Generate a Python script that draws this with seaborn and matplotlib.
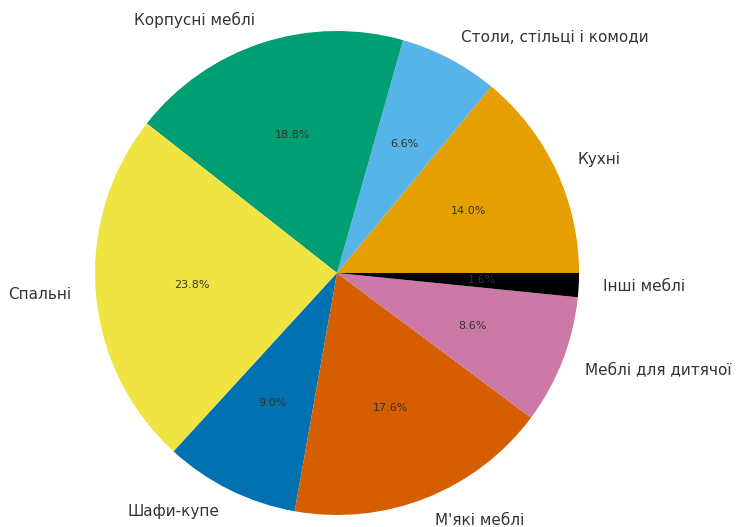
import matplotlib
matplotlib.use("Agg")
import matplotlib.pyplot as plt
import seaborn as sns

categories = ["Кухні", "Столи, стільці і комоди", "Корпусні меблі", "Спальні",
              "Шафи-купе", "М'які меблі", "Меблі для дитячої", "Інші меблі"]
shares = [14.0, 6.6, 18.8, 23.8, 9.0, 17.6, 8.6, 1.6]
colors = ["#E69F00", "#56B4E9", "#009E73", "#F0E442",
          "#0072B2", "#D55E00", "#CC79A7", "#000000"]

sns.set_style("white")
plt.rcParams['font.family'] = ['DejaVu Sans']
palette = sns.color_palette(colors)

fig = plt.figure(figsize=(7.41, 5.27), dpi=100)
ax = fig.add_axes([0.0466, -0.092, 0.8165, 1.148])
wedges, texts, autotexts = ax.pie(shares, labels=categories, colors=palette,
                                  autopct='%1.1f%%', startangle=0,
                                  wedgeprops={'linewidth': 0},
                                  textprops={'fontsize': 11, 'color': '#333333'})
for t in autotexts:
    t.set_fontsize(8)
    t.set_color('#333333')
ax.set_aspect('equal')
fig.savefig("out.png", dpi=100)
